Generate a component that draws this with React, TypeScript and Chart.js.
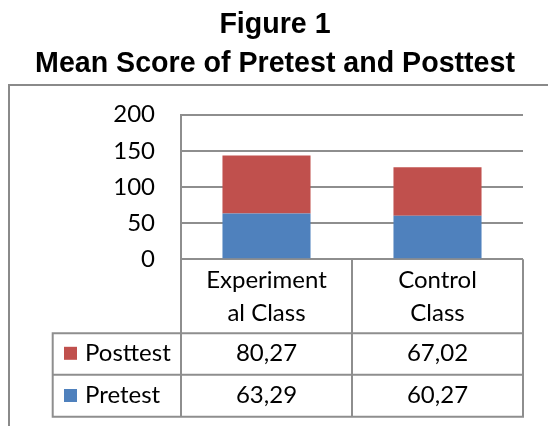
import React, { useEffect, useRef } from "react";
import Chart from "chart.js/auto";

const titleLines = ["Figure 1", "Mean Score of Pretest and Posttest"];
const categories = [["Experiment", "al Class"], ["Control", "Class"]];
const pretest = [63.29, 60.27];
const posttest = [80.27, 67.02];
const yTicks = [0, 50, 100, 150, 200];

const GRID = "#8e8e8e";
const FONT = "Lato";

const fmt = (v: number) => v.toFixed(2).replace(".", ",");

const decor = {
  id: "decor",
  afterDraw(chart: any) {
    const ctx = chart.ctx;
    const area = chart.chartArea;
    const xs = chart.scales.x;
    ctx.save();
    // title
    ctx.fillStyle = "#000";
    ctx.textAlign = "center";
    ctx.textBaseline = "alphabetic";
    ctx.font = 'bold 28.6px "Liberation Sans", Arial, sans-serif';
    ctx.fillText(titleLines[0], 275, 33.3);
    ctx.fillText(titleLines[1], 275, 72);

    // outer frame
    ctx.strokeStyle = "#8a8a8a";
    ctx.lineWidth = 2;
    ctx.beginPath();
    ctx.moveTo(9, 430);
    ctx.lineTo(9, 85);
    ctx.lineTo(552, 85);
    ctx.stroke();

    // data table
    const left = area.left;
    const right = area.right;
    const mid = (xs.getPixelForValue(0) + xs.getPixelForValue(1)) / 2;
    const top = area.bottom;
    const hdrB = top + 74;
    const r1B = hdrB + 41.5;
    const r2B = r1B + 42;
    const labL = 52.7;
    ctx.strokeStyle = GRID;
    ctx.lineWidth = 2;
    ctx.beginPath();
    [left, mid, right].forEach((x) => {
      ctx.moveTo(x, top);
      ctx.lineTo(x, r2B + 1);
    });
    ctx.moveTo(labL, hdrB);
    ctx.lineTo(labL, r2B + 1);
    [hdrB, r1B, r2B].forEach((y) => {
      ctx.moveTo(labL - 1, y);
      ctx.lineTo(right + 1, y);
    });
    ctx.stroke();

    ctx.fillStyle = "#000";
    ctx.font = `24px ${FONT}`;
    ctx.textAlign = "center";
    categories.forEach((lines, i) => {
      const cx = xs.getPixelForValue(i);
      ctx.fillText(lines[0], cx, top + 29);
      ctx.fillText(lines[1], cx, top + 61.4);
    });

    const rows = [
      { ds: chart.data.datasets[1], base: hdrB + 27.5 },
      { ds: chart.data.datasets[0], base: r1B + 28.2 },
    ];
    rows.forEach(({ ds, base }) => {
      ctx.fillStyle = ds.backgroundColor;
      ctx.fillRect(64, base - 14, 13, 13);
      ctx.fillStyle = "#000";
      ctx.textAlign = "left";
      ctx.fillText(ds.label, 85, base);
      ctx.textAlign = "center";
      ds.data.forEach((v: number, i: number) => {
        ctx.fillText(fmt(v), xs.getPixelForValue(i), base);
      });
    });
    ctx.restore();
  },
};

export default function App() {
  const ref = useRef<HTMLCanvasElement>(null);
  useEffect(() => {
    const chart = new Chart(ref.current!, {
      type: "bar",
      data: {
        labels: categories.map((c) => c.join("")),
        datasets: [
          {
            label: "Pretest",
            data: pretest,
            backgroundColor: "#4F81BD",
            categoryPercentage: 1,
            barPercentage: 0.515,
          },
          {
            label: "Posttest",
            data: posttest,
            backgroundColor: "#C0504D",
            categoryPercentage: 1,
            barPercentage: 0.515,
          },
        ],
      },
      options: {
        animation: false,
        responsive: false,
        devicePixelRatio: 1,
        layout: { padding: { left: 0, right: 25, top: 114.6, bottom: 166.7 } },
        plugins: {
          legend: { display: false },
          title: { display: false },
          tooltip: { enabled: false },
        },
        scales: {
          x: { stacked: true, display: false },
          y: {
            stacked: true,
            min: yTicks[0],
            max: yTicks[yTicks.length - 1],
            afterFit: (s: any) => {
              s.width = 181;
            },
            afterBuildTicks: (s: any) => {
              s.ticks = yTicks.map((v) => ({ value: v }));
            },
            ticks: {
              padding: 26,
              color: "#000",
              font: { family: FONT, size: 24 },
            },
            grid: { color: GRID, lineWidth: 2, drawTicks: false },
            border: { display: true, color: GRID, width: 2 },
          },
        },
      },
      plugins: [decor],
    });
    return () => chart.destroy();
  }, []);
  return (
    <div style={{ position: "fixed", left: 0, top: 0, width: 548, height: 426, background: "#fff" }}>
      <canvas ref={ref} width={548} height={426} />
    </div>
  );
}
